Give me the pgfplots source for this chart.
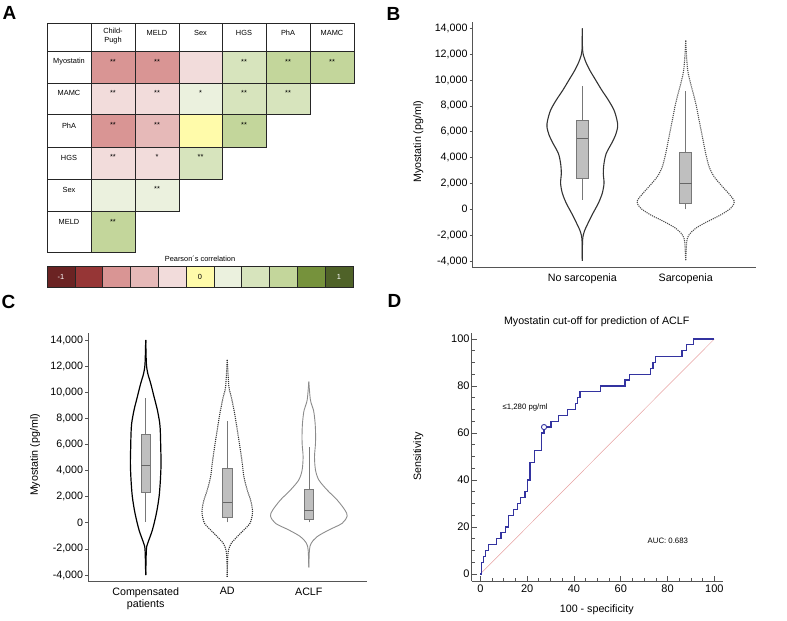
\documentclass[border=0pt]{standalone}
\usepackage{fontspec}
\setmainfont{Liberation Sans}
\usepackage{pgfplots}
\pgfplotsset{compat=1.18}
\usepackage{pgfplotstable}

\definecolor{cmA}{RGB}{107,35,35}
\definecolor{cmB}{RGB}{150,54,54}
\definecolor{cmC}{RGB}{217,149,148}
\definecolor{cmD}{RGB}{230,185,184}
\definecolor{cmE}{RGB}{242,220,219}
\definecolor{czero}{RGB}{255,251,170}
\definecolor{cpE}{RGB}{235,241,222}
\definecolor{cpD}{RGB}{215,228,189}
\definecolor{cpC}{RGB}{195,214,155}
\definecolor{cpB}{RGB}{118,146,60}
\definecolor{cpA}{RGB}{79,98,40}
\definecolor{axgray}{RGB}{85,85,85}
\definecolor{boxfill}{RGB}{191,191,191}
\definecolor{boxedge}{RGB}{120,120,120}
\definecolor{roc}{RGB}{51,51,160}
\definecolor{diag}{RGB}{230,160,160}

\newcommand\fsA{\fontsize{7.4}{8.3}\selectfont}
\newcommand\fsB{\fontsize{10.7}{12}\selectfont}
\newcommand\fsD{\fontsize{10.7}{12.5}\selectfont}
\newcommand\fsT{\fontsize{11}{13}\selectfont}
\newcommand\fsN{\fontsize{7.8}{9}\selectfont}
\newcommand\fsL{\fontsize{19}{19}\selectfont\bfseries}

% one heat-map cell: x0 x1 y0 y1 colour
\newcommand\cell[5]{\addplot[fill=#5, draw=black!85, line width=0.6pt] coordinates {(#1,#3) (#2,#3) (#2,#4) (#1,#4) (#1,#3)} -- cycle;}
% one box: x0 xc x1 lowerwhisker q1 median q3 upperwhisker
\newcommand\bxp[8]{%
\addplot[draw=boxedge, line width=0.6pt] coordinates {(#2,#4) (#2,#5)};
\addplot[draw=boxedge, line width=0.6pt] coordinates {(#2,#7) (#2,#8)};
\addplot[fill=boxfill, draw=boxedge, line width=0.6pt] coordinates {(#1,#5) (#3,#5) (#3,#7) (#1,#7) (#1,#5)} -- cycle;
\addplot[draw=black!60, line width=0.6pt] coordinates {(#1,#6) (#3,#6)};}

% violin half-widths (value, half-width in category units)
\pgfplotstableread{
v hw
14000 0
12300 0.003
11550 0.026
10780 0.071
10000 0.129
9230 0.187
8460 0.251
7680 0.306
6910 0.335
6390 0.342
5750 0.322
5110 0.284
4330 0.232
3560 0.21
2790 0.203
2010 0.21
1240 0.193
465 0.155
-310 0.103
-1080 0.055
-1725 0.019
-2370 0.003
-4000 0
}\vBa
\pgfplotstableread{
v hw
13040 0
12070 0.006
10780 0.019
10000 0.039
9230 0.064
8200 0.097
6910 0.129
5620 0.161
4330 0.193
3300 0.226
2530 0.274
1755 0.355
1240 0.413
594 0.471
78 0.435
-438 0.338
-953 0.21
-1468 0.097
-1986 0.032
-2502 0.01
-4000 0
}\vBb
\pgfplotstableread{
v hw
14000 0
12210 0.008
11450 0.025
10680 0.061
9660 0.102
8640 0.143
7620 0.172
6850 0.18
5830 0.184
4550 0.188
3280 0.18
2000 0.164
725 0.131
-550 0.082
-1570 0.025
-2080 0.008
-4000 0
}\vCa
\pgfplotstableread{
v hw
12470 0
10430 0.02
9660 0.049
8380 0.09
7110 0.123
5830 0.155
4550 0.184
3530 0.204
2510 0.245
1745 0.286
1107 0.307
597 0.307
-42 0.278
-552 0.204
-1063 0.123
-1573 0.049
-2084 0.016
-2850 0.004
-4150 0
}\vCb
\pgfplotstableread{
v hw
10810 0
9400 0.02
8640 0.057
7870 0.074
7110 0.082
6085 0.082
5060 0.07
4040 0.082
3280 0.123
2510 0.225
1745 0.348
980 0.442
520 0.47
-42 0.409
-552 0.245
-1063 0.102
-1573 0.029
-2084 0.008
-3410 0
}\vCc

\pgfplotstableread{
x y
0 0
0.4 0
0.4 5
1.3 5
1.3 7.5
2.3 7.5
2.3 10
3.4 10
3.4 12.5
7.0 12.5
7.0 15
8.8 15
8.8 17.5
10.8 17.5
10.8 20
12.1 20
12.1 25
14.1 25
14.1 27.5
16.0 27.5
16.0 30
17.0 30
17.0 32.5
19.1 32.5
19.1 35
20.1 35
20.1 40
21.2 40
21.2 47.5
23.1 47.5
23.1 52.5
26.1 52.5
26.1 60
27.2 60
27.2 62.5
30.2 62.5
30.2 65
33.3 65
33.3 67.5
37.3 67.5
37.3 70
40.5 70
40.5 72.5
41.5 72.5
41.5 75
42.6 75
42.6 77.5
51.2 77.5
51.2 80
61.8 80
61.8 82.5
63.7 82.5
63.7 85
72.8 85
72.8 87.5
73.7 87.5
73.7 90
74.7 90
74.7 92.5
86.1 92.5
86.1 95
88.2 95
88.2 97.5
91.0 97.5
91.0 100
100 100
}\rocdata

\pgfplotsset{
  violinaxis/.style={
    scale only axis,
    axis x line*=bottom, axis y line*=left,
    axis line style={-, draw=axgray, line width=0.9pt},
    xtick style={draw=none},
    ytick style={draw=axgray, line width=0.6pt},
    tick align=outside, major tick length=3pt,
    ytick={-4000,-2000,...,14000},
    scaled y ticks=false,
    /pgf/number format/assume math mode=true,
    yticklabel style={font=\fsB, /pgf/number format/1000 sep={,}, inner sep=2pt},
    xticklabel style={font=\fsB, align=center},
    clip=false,
  },
}

\begin{document}
\begin{tikzpicture}
\useasboundingbox (0pt,0pt) rectangle (787pt,-621pt);

% panel letters
\node[font=\fsL] at (9.5pt,-13pt) {A};
\node[font=\fsL] at (393.5pt,-13.5pt) {B};
\node[font=\fsL] at (8.5pt,-301.5pt) {C};
\node[font=\fsL] at (394.5pt,-300.5pt) {D};

% ---------------- A ----------------
\begin{axis}[scale only axis, width=360pt, height=290pt, at={(0pt,-290pt)}, anchor=south west,
  xmin=0, xmax=360, ymin=0, ymax=290, y dir=reverse, hide axis, clip=false]
% header row
\cell{47}{91}{23}{51}{white}
\cell{91}{135}{23}{51}{white}
\cell{135}{179}{23}{51}{white}
\cell{179}{222}{23}{51}{white}
\cell{222}{266}{23}{51}{white}
\cell{266}{310}{23}{51}{white}
\cell{310}{354}{23}{51}{white}
% Myostatin
\cell{47}{91}{51}{83}{white}
\cell{91}{135}{51}{83}{cmC}
\cell{135}{179}{51}{83}{cmC}
\cell{179}{222}{51}{83}{cmE}
\cell{222}{266}{51}{83}{cpD}
\cell{266}{310}{51}{83}{cpC}
\cell{310}{354}{51}{83}{cpC}
% MAMC
\cell{47}{91}{83}{114}{white}
\cell{91}{135}{83}{114}{cmE}
\cell{135}{179}{83}{114}{cmE}
\cell{179}{222}{83}{114}{cpE}
\cell{222}{266}{83}{114}{cpD}
\cell{266}{310}{83}{114}{cpD}
% PhA
\cell{47}{91}{114}{147}{white}
\cell{91}{135}{114}{147}{cmC}
\cell{135}{179}{114}{147}{cmD}
\cell{179}{222}{114}{147}{czero}
\cell{222}{266}{114}{147}{cpC}
% HGS
\cell{47}{91}{147}{179}{white}
\cell{91}{135}{147}{179}{cmE}
\cell{135}{179}{147}{179}{cmE}
\cell{179}{222}{147}{179}{cpD}
% Sex
\cell{47}{91}{179}{211}{white}
\cell{91}{135}{179}{211}{cpE}
\cell{135}{179}{179}{211}{cpE}
% MELD
\cell{47}{91}{211}{252}{white}
\cell{91}{135}{211}{252}{cpC}
% colour scale
\cell{47.0}{74.8}{266}{287}{cmA}
\cell{74.8}{102.6}{266}{287}{cmB}
\cell{102.6}{130.4}{266}{287}{cmC}
\cell{130.4}{158.2}{266}{287}{cmD}
\cell{158.2}{186.0}{266}{287}{cmE}
\cell{186.0}{213.8}{266}{287}{czero}
\cell{213.8}{241.6}{266}{287}{cpE}
\cell{241.6}{269.4}{266}{287}{cpD}
\cell{269.4}{297.2}{266}{287}{cpC}
\cell{297.2}{325.0}{266}{287}{cpB}
\cell{325.0}{352.8}{266}{287}{cpA}
\node[font=\fsA, align=center] at (axis cs:113,36) {Child-\\Pugh};
\node[font=\fsA] at (axis cs:157,33) {MELD};
\node[font=\fsA] at (axis cs:200.5,33) {Sex};
\node[font=\fsA] at (axis cs:244,33) {HGS};
\node[font=\fsA] at (axis cs:288,33) {PhA};
\node[font=\fsA] at (axis cs:332,33) {MAMC};
\node[font=\fsA] at (axis cs:69,62) {Myostatin};
\node[font=\fsA] at (axis cs:69,93) {MAMC};
\node[font=\fsA] at (axis cs:69,126) {PhA};
\node[font=\fsA] at (axis cs:69,158) {HGS};
\node[font=\fsA] at (axis cs:69,190) {Sex};
\node[font=\fsA] at (axis cs:69,222) {MELD};
\node[font=\fsA] at (axis cs:113,61.5) {**};
\node[font=\fsA] at (axis cs:157,61.5) {**};
\node[font=\fsA] at (axis cs:244,61.5) {**};
\node[font=\fsA] at (axis cs:288,61.5) {**};
\node[font=\fsA] at (axis cs:332,61.5) {**};
\node[font=\fsA] at (axis cs:113,92.5) {**};
\node[font=\fsA] at (axis cs:157,92.5) {**};
\node[font=\fsA] at (axis cs:200.5,92.5) {*};
\node[font=\fsA] at (axis cs:244,92.5) {**};
\node[font=\fsA] at (axis cs:288,92.5) {**};
\node[font=\fsA] at (axis cs:113,124.5) {**};
\node[font=\fsA] at (axis cs:157,124.5) {**};
\node[font=\fsA] at (axis cs:244,124.5) {**};
\node[font=\fsA] at (axis cs:113,156.5) {**};
\node[font=\fsA] at (axis cs:157,156.5) {*};
\node[font=\fsA] at (axis cs:200.5,156.5) {**};
\node[font=\fsA] at (axis cs:157,188.5) {**};
\node[font=\fsA] at (axis cs:113,221.5) {**};
\node[font=\fsA] at (axis cs:200,259) {Pearson´s correlation};
\node[font=\fsA, text=white] at (axis cs:61,276.5) {-1};
\node[font=\fsA] at (axis cs:200,276.5) {0};
\node[font=\fsA, text=white] at (axis cs:339,276.5) {1};
\end{axis}

% ---------------- B ----------------
\begin{axis}[violinaxis, width=283pt, height=246pt, at={(472.7pt,-267.7pt)}, anchor=south west,
  xmin=-0.06, xmax=2.677, ymin=-4520, ymax=14510,
  xtick={1,2}, xticklabels={No sarcopenia,Sarcopenia},
  ylabel={Myostatin (pg/ml)},
  ylabel style={font=\fsB, at={(axis description cs:-0.192,0.512)}, anchor=center}]
\addplot[smooth, draw=black!80, line width=1.1pt] table[x expr=1+\thisrow{hw}, y=v] {\vBa};
\addplot[smooth, draw=black!80, line width=1.1pt] table[x expr=1-\thisrow{hw}, y=v] {\vBa};
\addplot[smooth, draw=black!70, line width=1.1pt, densely dotted] table[x expr=2+\thisrow{hw}, y=v] {\vBb};
\addplot[smooth, draw=black!70, line width=1.1pt, densely dotted] table[x expr=2-\thisrow{hw}, y=v] {\vBb};
\bxp{0.944}{1}{1.056}{720}{2400}{5515}{6910}{9560}
\bxp{1.942}{2}{2.058}{0}{465}{2010}{4410}{9150}
\end{axis}

% ---------------- C ----------------
\begin{axis}[violinaxis, width=278.4pt, height=247.7pt, at={(88.3pt,-581pt)}, anchor=south west,
  xmin=0.296, xmax=3.71, ymin=-4460, ymax=14513,
  xtick={1,2,3}, xticklabels={Compensated\\patients,AD,ACLF},
  ylabel={Myostatin (pg/ml)},
  ylabel style={font=\fsB, at={(axis description cs:-0.191,0.509)}, anchor=center}]
\addplot[smooth, draw=black, line width=1.2pt] table[x expr=1+\thisrow{hw}, y=v] {\vCa};
\addplot[smooth, draw=black, line width=1.2pt] table[x expr=1-\thisrow{hw}, y=v] {\vCa};
\addplot[smooth, draw=black!80, line width=1.1pt, densely dotted] table[x expr=2+\thisrow{hw}, y=v] {\vCb};
\addplot[smooth, draw=black!80, line width=1.1pt, densely dotted] table[x expr=2-\thisrow{hw}, y=v] {\vCb};
\addplot[smooth, draw=black!45, line width=0.9pt] table[x expr=3+\thisrow{hw}, y=v] {\vCc};
\addplot[smooth, draw=black!45, line width=0.9pt] table[x expr=3-\thisrow{hw}, y=v] {\vCc};
\bxp{0.943}{1}{1.057}{86}{2307}{4400}{6775}{9530}
\bxp{1.943}{2}{2.057}{35}{392}{1567}{4171}{7822}
\bxp{2.943}{3}{3.057}{35}{265}{980}{2537}{5779}
\end{axis}

% ---------------- D ----------------
\node[font=\fsD] at (596.7pt,-321.7pt) {Myostatin cut-off for prediction of ACLF};
\begin{axis}[scale only axis, width=251.6pt, height=247.7pt, at={(471.7pt,-581pt)}, anchor=south west,
  xmin=-3.7, xmax=103.8, ymin=-3, ymax=102.4,
  axis x line*=bottom, axis y line*=left,
  axis line style={-, draw=axgray, line width=0.9pt},
  xtick={0,20,...,100}, ytick={0,20,...,100}, minor tick num=3,
  tick align=inside, major tick length=5.5pt, minor tick length=3pt,
  tick style={draw=axgray, line width=0.8pt},
  /pgf/number format/assume math mode=true,
  ticklabel style={font=\fsT},
  yticklabel style={inner sep=2pt},
  xlabel={100 - specificity}, ylabel={Sensitivity},
  xlabel style={font=\fsD, at={(axis description cs:0.497,-0.117)}, anchor=center},
  ylabel style={font=\fsD, at={(axis description cs:-0.212,0.502)}, anchor=center},
  clip=false]
\addplot[draw=diag, line width=0.5pt] coordinates {(0,0) (100,100)};
\addplot[draw=roc, line width=1.3pt] table[x=x, y=y] {\rocdata};
\addplot[only marks, mark=*, mark size=2.6pt, mark options={draw=roc, fill=white, line width=0.9pt}] coordinates {(27.2,62.5)};
\node[font=\fsN] at (axis cs:19.1,70.8) {≤1,280 pg/ml};
\node[font=\fsN] at (axis cs:80.1,14.2) {AUC: 0.683};
\end{axis}
\end{tikzpicture}
\end{document}
